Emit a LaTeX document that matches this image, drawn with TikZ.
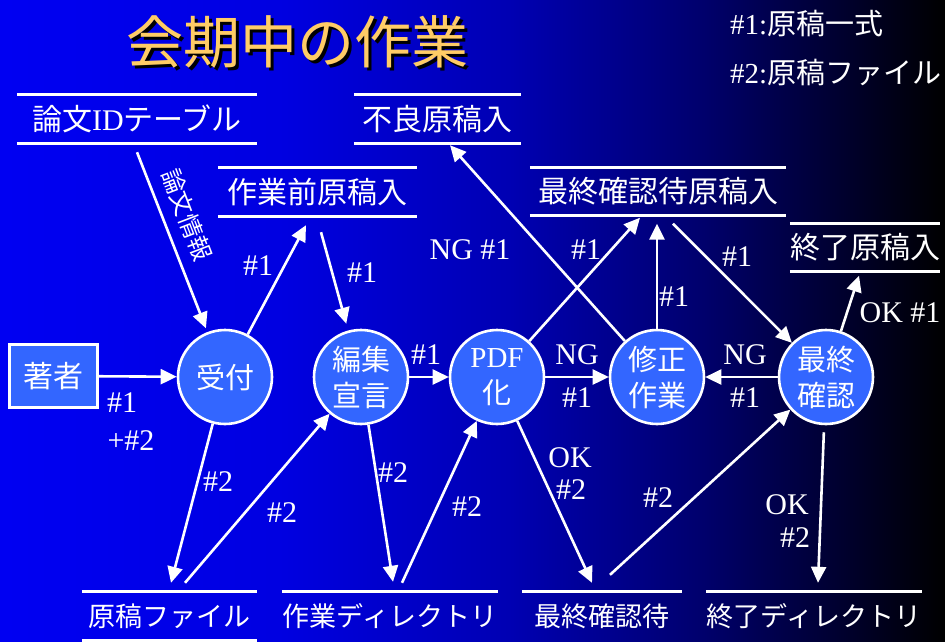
\documentclass[tikz,border=0pt]{standalone}
\usepackage{fontspec}
\setmainfont{Liberation Serif}
\newfontfamily\jp{Noto Sans CJK JP}
\usetikzlibrary{arrows.meta}
\usetikzlibrary{calc}
\definecolor{procblue}{RGB}{51,102,255}
\definecolor{titleyellow}{RGB}{255,204,102}
\pgfdeclarehorizontalshading{bgshade}{100bp}{rgb(0bp)=(0,0,0.95); rgb(25bp)=(0,0,0.95); rgb(40bp)=(0,0,0.88); rgb(52bp)=(0,0,0.7); rgb(62bp)=(0,0,0.43); rgb(75bp)=(0,0,0); rgb(100bp)=(0,0,0)}

\begin{document}
\begin{tikzpicture}[x=1pt,y=-1pt,
  every node/.style={text=white,inner sep=0pt},
  proc/.style={circle,draw=white,line width=2.6pt,fill=procblue,minimum size=94pt,align=center,font=\fontsize{29}{36}\selectfont\jp},
  store/.style={minimum height=48pt,font=\fontsize{30}{36}\selectfont\jp},
  lowstore/.style={store,font=\fontsize{27}{36}\selectfont\jp},
  lab/.style={font=\fontsize{30}{34}\selectfont},
  flow/.style={draw=white,line width=2.6pt,-{Triangle[length=16pt,width=15pt]}},
  sline/.style={white,line width=3pt}]
  \useasboundingbox (0,0) rectangle (945,641);
  \shade[shading=bgshade] (0,0) rectangle (945,641);

  % title and legend
  \node[font=\fontsize{57}{60}\selectfont\jp,text=black] (titsh) at (300.5,45) {会期中の作業};
  \node[font=\fontsize{57}{60}\selectfont\jp,text=titleyellow] (tit) at (297.5,42) {会期中の作業};
  \node[anchor=west,font=\fontsize{29}{34}\selectfont] (leg1) at (730,24) {\#1:{\jp 原稿一式}};
  \node[anchor=west,font=\fontsize{29}{34}\selectfont] (leg2) at (730,72) {\#2:{\jp 原稿ファイル}};

  % processes
  \node[draw=white,line width=2.6pt,fill=procblue,minimum width=88pt,minimum height=63pt,font=\fontsize{30}{36}\selectfont\jp] (cho) at (53.5,376) {著者};
  \node[proc] (uke) at (225,377) {受付};
  \node[proc] (hen) at (361,377) {編集\\宣言};
  \node[proc] (pdf) at (497,377) {{\rmfamily PDF}\\化};
  \node[proc] (shu) at (657,377) {修正\\作業};
  \node[proc] (sai) at (826,377) {最終\\確認};

  % stores
  \node[store,minimum width=240pt] (idt) at (137,119) {論文{\rmfamily ID}テーブル};
  \node[store,minimum width=199pt] (pre) at (317.5,192) {作業前原稿入};
  \node[store,minimum width=167pt] (bad) at (437.5,119) {不良原稿入};
  \node[store,minimum width=256pt] (wait) at (658,191.5) {最終確認待原稿入};
  \node[store,minimum width=144pt] (done) at (865,247.5) {終了原稿入};
  \node[lowstore,minimum width=175pt] (file) at (169.5,616) {原稿ファイル};
  \node[lowstore,minimum width=216pt] (wdir) at (390,616) {作業ディレクトリ};
  \node[lowstore,minimum width=160pt] (wcd) at (602,616) {最終確認待};
  \node[lowstore,minimum width=216pt] (edir) at (814,616) {終了ディレクトリ};
  \foreach \s in {idt,pre,bad,wait,done}
    \draw[sline] (\s.north west) -- (\s.north east) (\s.south west) -- (\s.south east);
  \foreach \s in {file,wdir,wcd,edir}
    \draw[sline] (\s.north west) -- (\s.north east);
  \draw[sline] (file.south west) -- (file.south east);

  % flows
  \draw[flow] (cho) -- (uke);
  \draw[flow,shorten >=4pt] ($(idt.south)+(0,9)$) -- (uke);
  \draw[flow] (uke) -- ($(pre.south)+(-11.5,9)$);
  \draw[flow,shorten >=7pt] ($(pre.south)+(3.5,16)$) -- (hen);
  \draw[flow] (hen) -- (pdf);
  \draw[flow] (pdf) -- (shu);
  \draw[flow] (sai) -- (shu);
  \draw[flow] (shu) -- ($(bad.south)+(12.5,2)$);
  \draw[flow] (pdf) -- ($(wait.south)+(-18,2)$);
  \draw[flow] (shu) -- ($(wait.south)+(-1,8)$);
  \draw[flow] ($(wait.south)+(15,8)$) -- (sai);
  \draw[flow] (sai) -- ($(done.south)+(-6,4)$);
  \draw[flow] (uke) -- ($(file.north)+(1.5,-9)$);
  \draw[flow] ($(file.north)+(15.5,-9)$) -- (hen);
  \draw[flow] (hen) -- ($(wdir.north)+(3,-10)$);
  \draw[flow] ($(wdir.north)+(12,-9)$) -- (pdf);
  \draw[flow] (pdf) -- ($(wcd.north)+(-10,-9)$);
  \draw[flow] ($(wcd.north)+(8,-17)$) -- (sai);
  \draw[flow,shorten <=7pt] (sai) -- ($(edir.north)+(4,-9)$);

  % labels
  \node[lab] (a1) at (122,403) {\#1};
  \node[lab] (a2) at (131,441) {+\#2};
  \node[font=\fontsize{24}{28}\selectfont\jp,rotate=-69] (a3) at (187,215) {論文情報};
  \node[lab] (a4) at (258,266) {\#1};
  \node[lab] (a5) at (362,273) {\#1};
  \node[lab] (a6) at (426,355) {\#1};
  \node[lab] (a7) at (577,355) {NG};
  \node[lab] (a8) at (577,398) {\#1};
  \node[lab] (a9) at (745,355) {NG};
  \node[lab] (a10) at (745,398) {\#1};
  \node[lab] (a11) at (470,250) {NG \#1};
  \node[lab] (a12) at (586,250) {\#1};
  \node[lab] (a13) at (674,297) {\#1};
  \node[lab] (a14) at (737,257) {\#1};
  \node[lab] (a15) at (900,313) {OK \#1};
  \node[lab] (a16) at (218,482) {\#2};
  \node[lab] (a17) at (282,513) {\#2};
  \node[lab] (a18) at (393,473) {\#2};
  \node[lab] (a19) at (467,507) {\#2};
  \node[lab] (a20) at (570,458) {OK};
  \node[lab] (a21) at (571,490) {\#2};
  \node[lab] (a22) at (658,498) {\#2};
  \node[lab] (a23) at (787,505) {OK};
  \node[lab] (a24) at (795,538) {\#2};
\end{tikzpicture}
\end{document}
